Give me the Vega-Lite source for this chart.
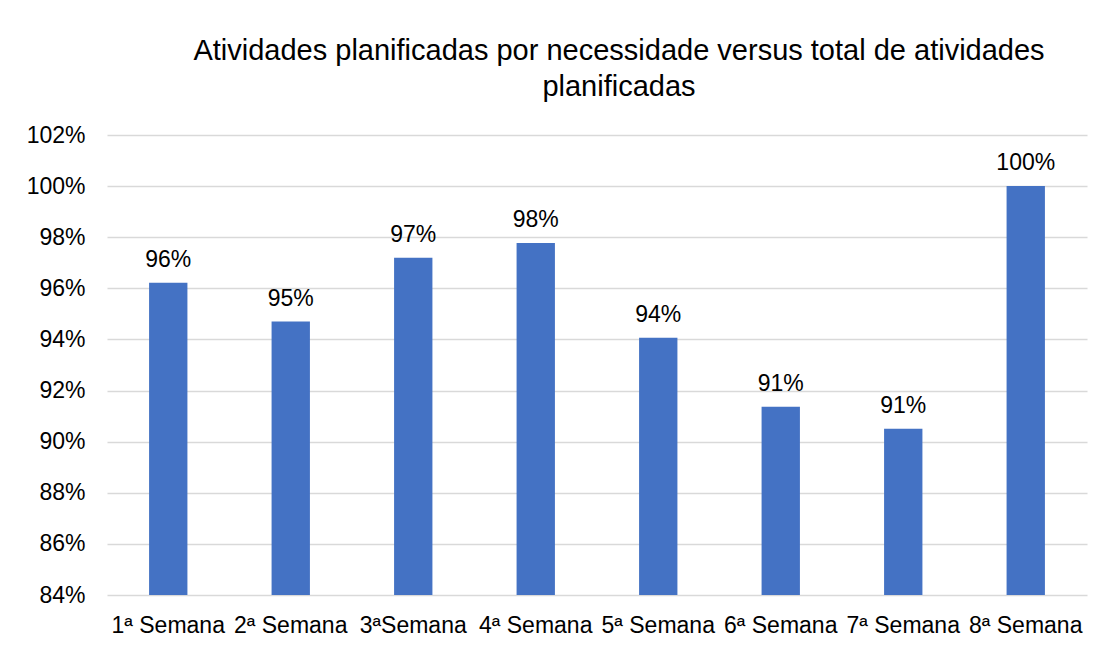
{
  "$schema": "https://vega.github.io/schema/vega-lite/v6.json",
  "width": 980,
  "height": 460,
  "autosize": "none",
  "padding": {"left": 107, "top": 135, "right": 15, "bottom": 51},
  "background": "white",
  "title": {
    "text": ["Atividades planificadas por necessidade versus total de atividades", "planificadas"],
    "font": "Liberation Sans",
    "fontSize": 29,
    "fontWeight": "normal",
    "color": "#000000",
    "lineHeight": 36,
    "anchor": "middle",
    "dx": 22,
    "offset": 22
  },
  "config": {
    "view": {"stroke": null},
    "font": "Liberation Sans"
  },
  "data": {
    "values": [
      {"semana": "1ª Semana", "valor": 0.9622},
      {"semana": "2ª Semana", "valor": 0.9470},
      {"semana": "3ªSemana", "valor": 0.9720},
      {"semana": "4ª Semana", "valor": 0.9777},
      {"semana": "5ª Semana", "valor": 0.9407},
      {"semana": "6ª Semana", "valor": 0.9137},
      {"semana": "7ª Semana", "valor": 0.9051},
      {"semana": "8ª Semana", "valor": 1.0}
    ]
  },
  "encoding": {
    "x": {
      "field": "semana",
      "type": "nominal",
      "sort": null,
      "scale": {"paddingInner": 0.687, "paddingOuter": 0.3435},
      "axis": {
        "title": null,
        "labelAngle": 0,
        "labelFont": "Liberation Sans",
        "labelFontSize": 23,
        "labelColor": "#000000",
        "labelPadding": 19,
        "ticks": false,
        "domain": false,
        "grid": false
      }
    }
  },
  "layer": [
    {
      "mark": {"type": "bar", "color": "#4472C4"},
      "encoding": {
        "y": {
          "field": "valor",
          "type": "quantitative",
          "scale": {"domain": [0.84, 1.02], "zero": false, "nice": false},
          "axis": {
            "title": null,
            "format": ".0%",
            "values": [0.84, 0.86, 0.88, 0.90, 0.92, 0.94, 0.96, 0.98, 1.0, 1.02],
            "labelFont": "Liberation Sans",
            "labelFontSize": 23,
            "labelColor": "#000000",
            "labelPadding": 22,
            "ticks": false,
            "domain": false,
            "grid": true,
            "gridColor": "#D9D9D9",
            "gridWidth": 1.5
          }
        },
        "y2": {"datum": 0.84}
      }
    },
    {
      "mark": {"type": "text", "baseline": "alphabetic", "dy": -16, "fontSize": 23, "font": "Liberation Sans", "color": "#000000"},
      "encoding": {
        "y": {"field": "valor", "type": "quantitative"},
        "text": {"field": "valor", "type": "quantitative", "format": ".0%"}
      }
    }
  ]
}
